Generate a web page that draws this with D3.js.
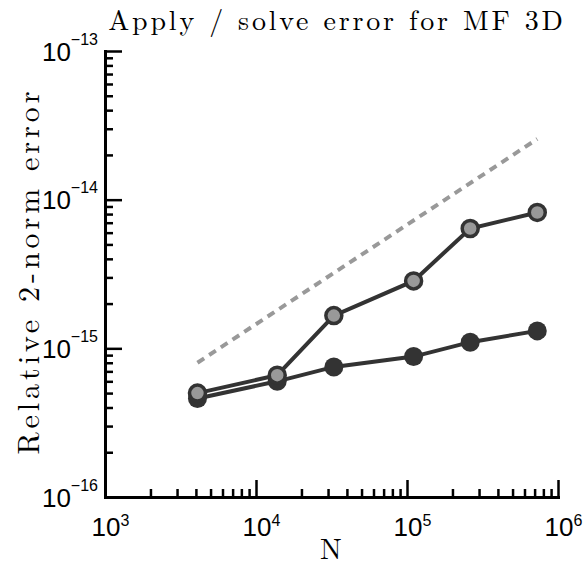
<!DOCTYPE html>
<html>
<head>
<meta charset="utf-8">
<script src="https://cdn.jsdelivr.net/npm/d3@7"></script>
<style>
  body { margin: 0; background: #fff; }
  svg { display: block; }
</style>
</head>
<body>
<div id="chart"></div>
<script>
var width = 583;
var height = 569;
var margin = { top: 51, right: 25, bottom: 72, left: 105 };

// problem sizes and relative errors
var sizes = [4096, 13824, 32768, 110592, 262144, 729000];
var applyErr = [5.0e-16, 6.6e-16, 1.66e-15, 2.84e-15, 6.4e-15, 8.2e-15];
var solveErr = [4.6e-16, 6.0e-16, 7.5e-16, 8.8e-16, 1.10e-15, 1.31e-15];
// dashed reference slope, end points only
var refSizes = [4096, 729000];
var refErr = [8.0e-16, 2.56e-14];

var xTicks = [1e3, 1e4, 1e5, 1e6];
var xTickExp = ["3", "4", "5", "6"];
var yTicks = [1e-16, 1e-15, 1e-14, 1e-13];
var yTickExp = ["\u221216", "\u221215", "\u221214", "\u221213"];

var svg = d3.select("#chart")
            .append("svg")
            .attr("width", width)
            .attr("height", height);

var w = width - margin.left - margin.right;
var h = height - margin.top - margin.bottom;

var xScale = d3.scaleLog()
            .domain([1e3, 1e6])
            .range([margin.left, margin.left + w]);

var yScale = d3.scaleLog()
            .domain([1e-16, 1e-13])
            .range([margin.top + h, margin.top]);

// minor ticks between the decades
function minors(lo, hi) {
    var out = [];
    for (var e = lo; e < hi; e++) {
        for (var k = 2; k <= 9; k++) out.push(k * Math.pow(10, e));
    }
    return out;
}

svg.append("g")
    .attr("transform", "translate(0," + (margin.top + h) + ")")
    .call(d3.axisBottom(xScale).tickValues(minors(3, 6)).tickFormat("").tickSize(-8).tickSizeOuter(0));
svg.append("g")
    .attr("transform", "translate(" + margin.left + ",0)")
    .call(d3.axisLeft(yScale).tickValues(minors(-16, -13)).tickFormat("").tickSize(-8).tickSizeOuter(0));

var gx = svg.append("g")
    .attr("transform", "translate(0," + (margin.top + h) + ")")
    .call(d3.axisBottom(xScale).tickValues(xTicks).tickSize(-17).tickSizeOuter(0).tickPadding(0));
var gy = svg.append("g")
    .attr("transform", "translate(" + margin.left + ",0)")
    .call(d3.axisLeft(yScale).tickValues(yTicks).tickSize(-17).tickSizeOuter(0).tickPadding(0));

svg.selectAll(".domain")
    .attr("stroke", "#000")
    .attr("stroke-width", 3)
    .attr("stroke-linecap", "square");
svg.selectAll(".tick line")
    .attr("stroke", "#000")
    .attr("stroke-width", 2.5);

// tick labels as 10 with a superscript
var sans = "'Liberation Sans', Helvetica, Arial, sans-serif";

gx.selectAll(".tick text")
    .text("")
    .attr("font-family", sans)
    .attr("font-size", 26)
    .attr("fill", "#000")
    .attr("text-anchor", "middle")
    .attr("x", 5)
    .attr("y", 39)
    .attr("dy", 0)
    .each(function(d, i) {
        var t = d3.select(this);
        t.append("tspan").text("10");
        t.append("tspan").attr("dy", -10).attr("font-size", 16).text(xTickExp[i]);
    });

gy.selectAll(".tick text")
    .text("")
    .attr("font-family", sans)
    .attr("font-size", 26)
    .attr("fill", "#000")
    .attr("text-anchor", "end")
    .attr("x", -7)
    .attr("y", 9)
    .attr("dy", 0)
    .each(function(d, i) {
        var t = d3.select(this);
        t.append("tspan").text("10");
        t.append("tspan").attr("dy", -16).attr("font-size", 16).text(yTickExp[i]);
    });

var line = d3.line()
    .x(function(d) { return xScale(d[0]); })
    .y(function(d) { return yScale(d[1]); });

// dashed reference line
svg.append("path")
    .datum(d3.zip(refSizes, refErr))
    .attr("d", line)
    .attr("fill", "none")
    .attr("stroke", "#999")
    .attr("stroke-width", 4)
    .attr("stroke-dasharray", "8,6");

// solve error (black markers)
svg.append("path")
    .datum(d3.zip(sizes, solveErr))
    .attr("d", line)
    .attr("fill", "none")
    .attr("stroke", "#333")
    .attr("stroke-width", 4);

svg.selectAll(".solve")
    .data(d3.zip(sizes, solveErr))
    .enter()
    .append("circle")
    .attr("class", "solve")
    .attr("cx", function(d) { return xScale(d[0]); })
    .attr("cy", function(d) { return yScale(d[1]); })
    .attr("r", 9.5)
    .attr("fill", "#333");

// apply error (grey markers)
svg.append("path")
    .datum(d3.zip(sizes, applyErr))
    .attr("d", line)
    .attr("fill", "none")
    .attr("stroke", "#333")
    .attr("stroke-width", 4);

svg.selectAll(".apply")
    .data(d3.zip(sizes, applyErr))
    .enter()
    .append("circle")
    .attr("class", "apply")
    .attr("cx", function(d) { return xScale(d[0]); })
    .attr("cy", function(d) { return yScale(d[1]); })
    .attr("r", 8)
    .attr("fill", "#999")
    .attr("stroke", "#333")
    .attr("stroke-width", 3.5);

// title and axis labels
var serif = "'Latin Modern Roman', 'CMU Serif', 'Liberation Serif', 'Times New Roman', serif";

svg.append("text")
    .attr("x", 337)
    .attr("y", 30)
    .attr("text-anchor", "middle")
    .attr("font-family", serif)
    .attr("font-size", 28)
    .style("letter-spacing", "2.8px")
    .text("Apply / solve error for MF 3D");

svg.append("text")
    .attr("x", 331)
    .attr("y", 559)
    .attr("text-anchor", "middle")
    .attr("font-family", serif)
    .attr("font-size", 29)
    .text("N");

svg.append("text")
    .attr("transform", "translate(39,273) rotate(-90)")
    .attr("text-anchor", "middle")
    .attr("font-family", serif)
    .attr("font-size", 30)
    .attr("textLength", 363)
    .attr("lengthAdjust", "spacing")
    .text("Relative 2-norm error");
</script>
</body>
</html>
